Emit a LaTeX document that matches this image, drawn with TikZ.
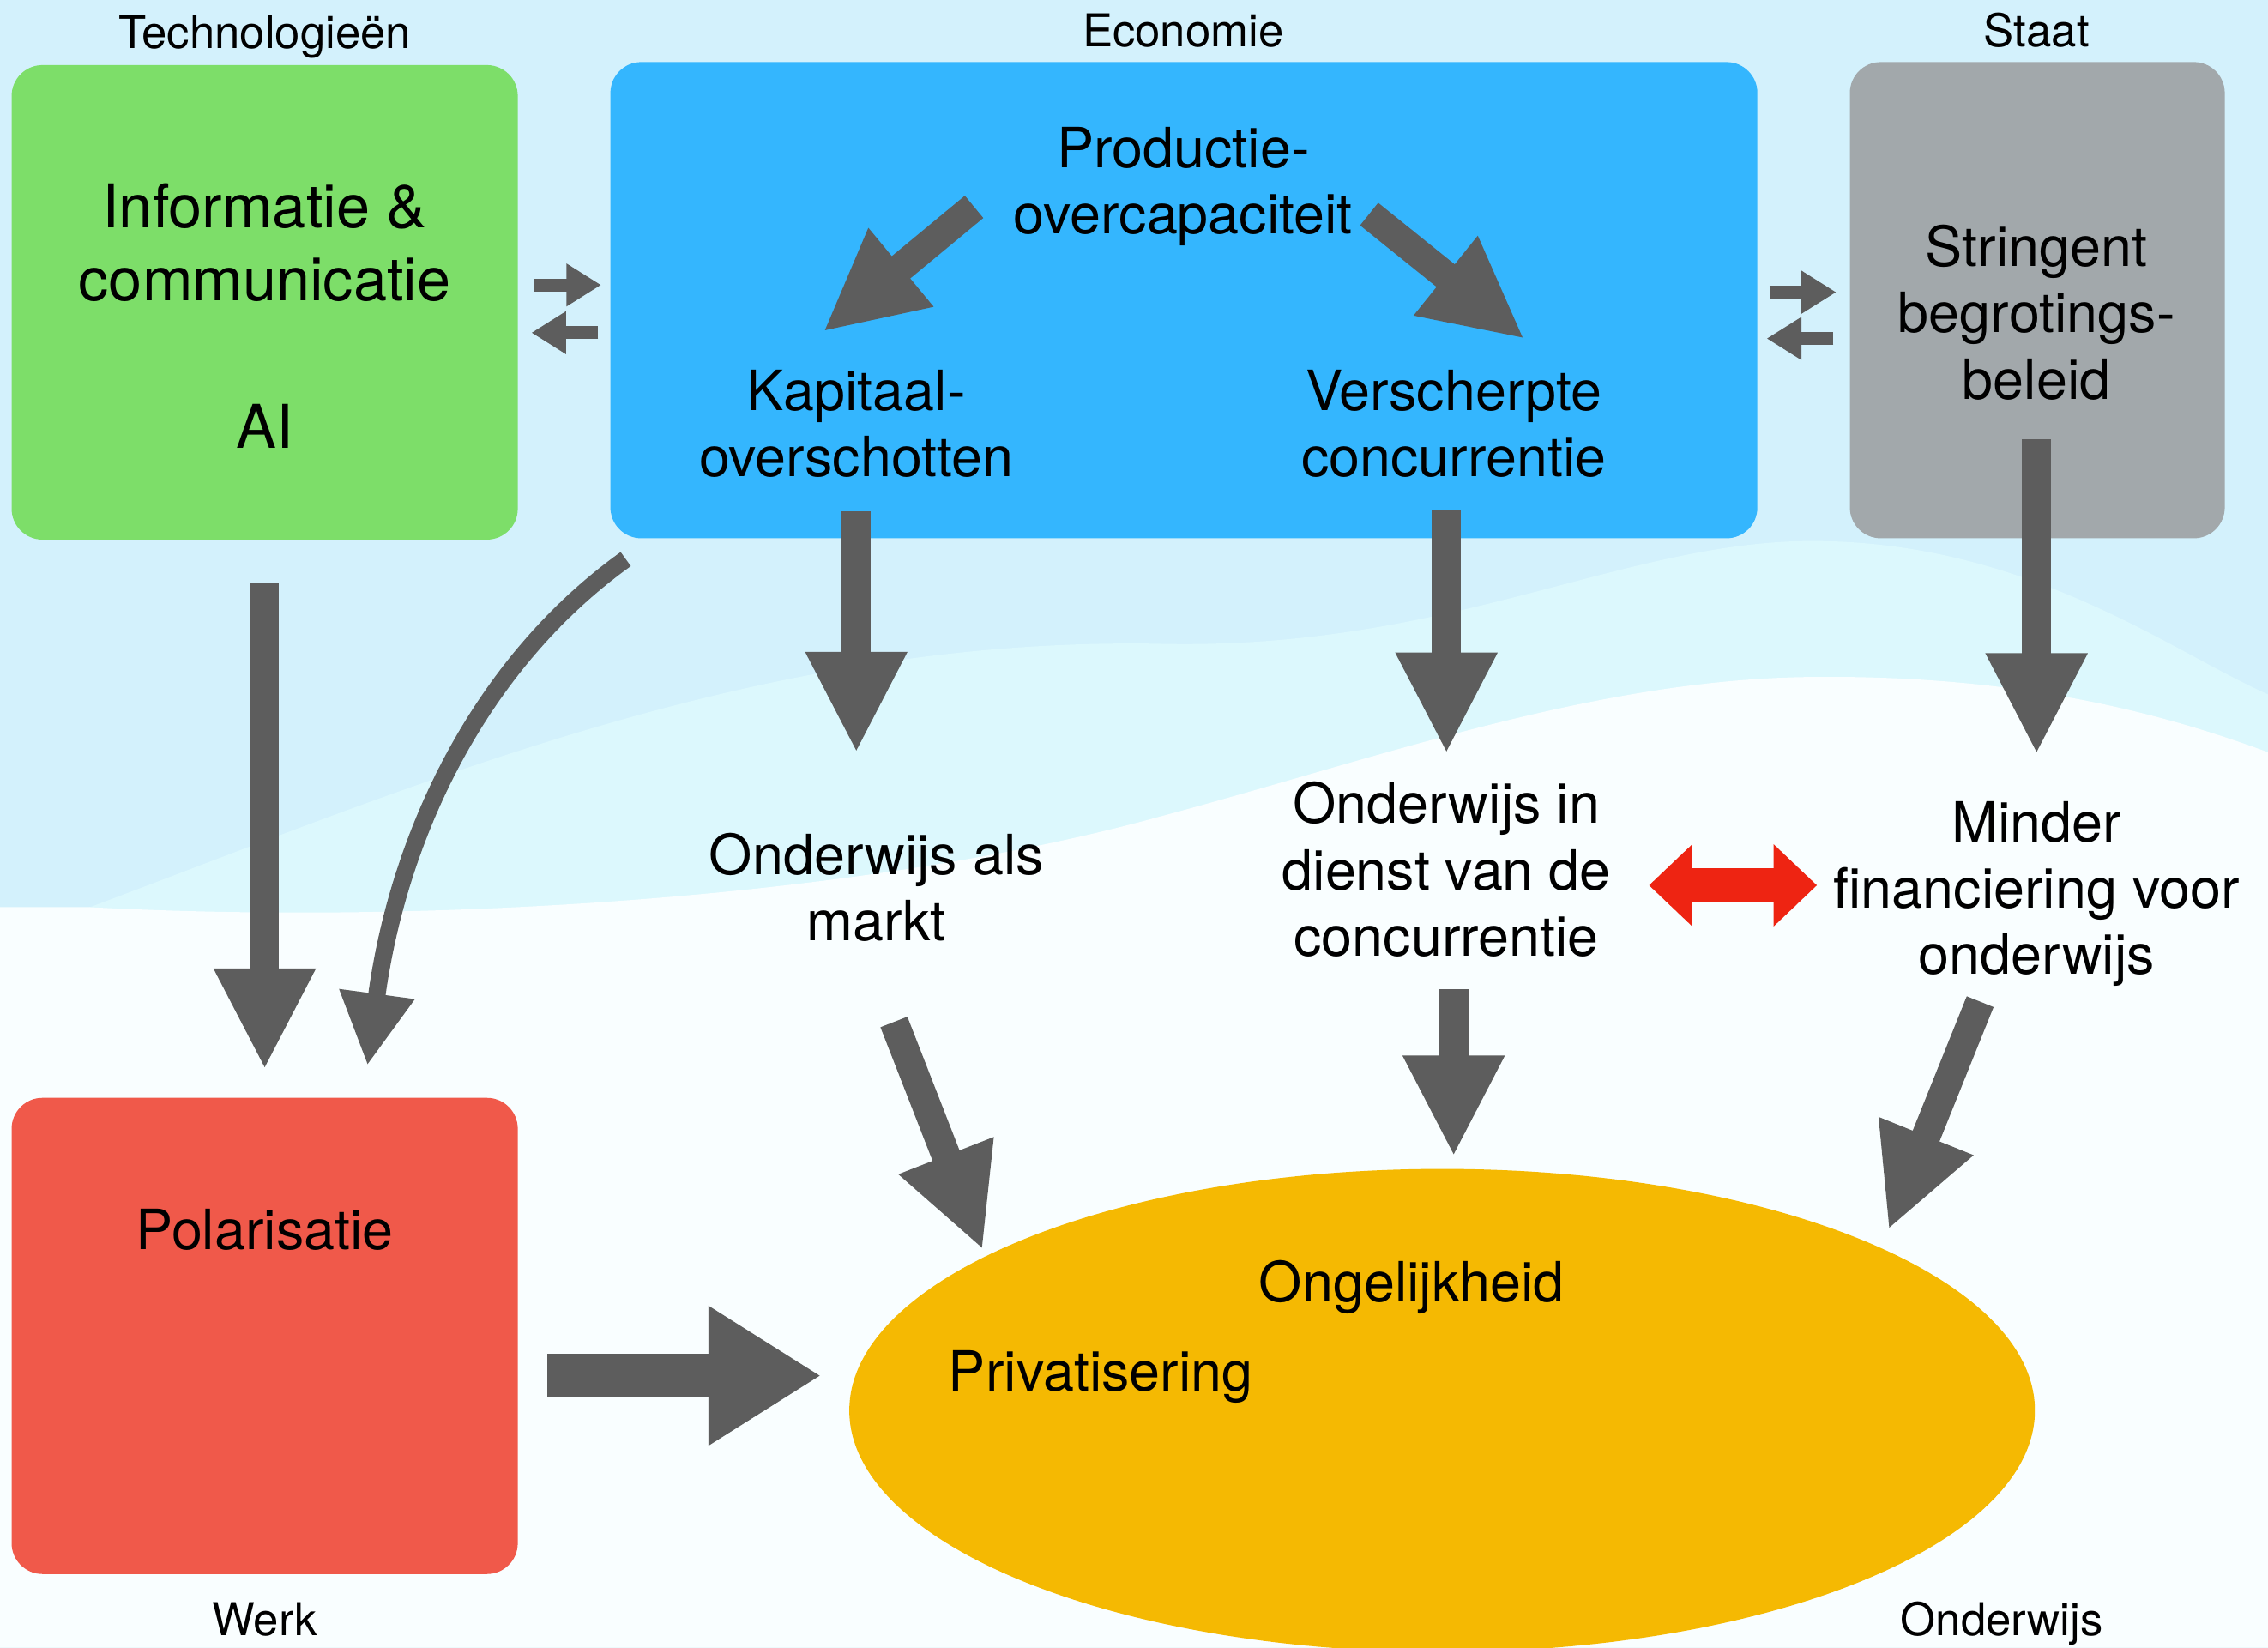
\documentclass[tikz,border=0pt]{standalone}
\usepackage{fontspec}
\setmainfont{TeX Gyre Heros}
\usepackage{tikz}
\usetikzlibrary{
        arrows.meta,
        calc,
        shapes.geometric
    }
\definecolor{techgreen}{HTML}{7DDE69}
\definecolor{econblue}{HTML}{34B6FE}
\definecolor{staatgray}{HTML}{A2A8AB}
\definecolor{werkred}{HTML}{F0594A}
\definecolor{onderwijsyellow}{HTML}{F5B902}
\definecolor{arrowgray}{HTML}{5D5D5D}
\definecolor{arrowred}{HTML}{EE2412}
\definecolor{bgtop}{HTML}{D3F1FC}
\definecolor{bgmid}{HTML}{DCF8FD}
\definecolor{bglow}{HTML}{F9FEFF}
\tikzset{
    box/.style={rounded corners=0.36cm,inner sep=0pt},
    txt/.style={align=center,inner sep=0pt,font=\fontsize{18.4}{22}\selectfont},
    kop/.style={inner sep=0pt,font=\fontsize{15}{18}\selectfont},
    bigarrow/.style={draw=arrowgray,line width=0.337cm,-{Triangle[length=1.18cm,width=1.10cm]}},
    widearrow/.style={draw=arrowgray,line width=0.506cm,-{Triangle[length=1.315cm,width=1.534cm]}},
    smallarrow/.style={draw=arrowgray,line width=0.152cm,-{Triangle[length=0.405cm,width=0.472cm]}},
    curvearrow/.style={draw=arrowgray,line width=0.202cm,-{Triangle[length=0.84cm,width=0.83cm]}},
    redarrow/.style={draw=arrowred,line width=0.405cm,{Triangle[length=0.506cm,width=0.927cm]}-{Triangle[length=0.506cm,width=0.927cm]}}
}

\begin{document}
\begin{tikzpicture}[x=0.01686cm,y=-0.01686cm]
                    % achtergrond
                    \useasboundingbox (0,0) rectangle (1568,1139);
                    \clip (0,0) rectangle (1568,1139);
                    \fill[bgtop] (0,0) rectangle (1568,1139);
                    \fill[bgmid] (0,1139) -- (0,650) .. controls (250,560) and (500,440) .. (800,445) .. controls (1000,450) and (1120,375) .. (1250,374) .. controls (1400,373) and (1500,450) .. (1568,480) -- (1568,1139) -- cycle;
                    \fill[bglow] (0,1139) -- (0,627) -- (60,627) .. controls (300,640) and (600,620) .. (800,565) .. controls (950,525) and (1100,470) .. (1250,468) .. controls (1400,466) and (1500,495) .. (1568,520) -- (1568,1139) -- cycle;

                    % blokken
                    \node[box,fill=techgreen,minimum width=5.90cm,minimum height=5.53cm] (techbox) at (183,209) {};
                    \node[box,fill=econblue,minimum width=13.37cm,minimum height=5.55cm] (econbox) at (818.5,207.5) {};
                    \node[box,fill=staatgray,minimum width=4.37cm,minimum height=5.55cm] (staatbox) at (1408.5,207.5) {};
                    \node[box,fill=werkred,minimum width=5.90cm,minimum height=5.55cm] (werkbox) at (183,923.5) {};
                    \node[ellipse,fill=onderwijsyellow,inner sep=0pt,minimum width=13.82cm,minimum height=5.63cm] (onderwijsbox) at (997,975) {};

                    \node[kop] (techlabel) at (183,25.5) {Technologieën};
                    \node[kop] (econlabel) at (818,21) {Economie};
                    \node[kop] (staatlabel) at (1408,21) {Staat};
                    \node[kop] (werklabel) at (183,1119.5) {Werk};
                    \node[kop] (onderwijslabel) at (1384,1122.5) {Onderwijs};

                    \node[txt,font=\fontsize{20}{24}\selectfont] (ict) at (183,218.5) {Informatie \&\\communicatie\\[25pt]AI};
                    \node[txt] (prod) at (818,129) {Productie-\\overcapaciteit};
                    \node[txt] (kap) at (592,293) {Kapitaal-\\overschotten};
                    \node[txt] (versch) at (1005,293) {Verscherpte\\concurrentie};
                    \node[txt] (string) at (1408,216) {Stringent\\begrotings-\\beleid};
                    \node[txt] (markt) at (606,613.5) {Onderwijs als\\markt};
                    \node[txt] (dienst) at (1000,601) {Onderwijs in\\dienst van de\\concurrentie};
                    \node[txt] (minder) at (1408,618) {Minder\\financiering voor\\onderwijs};
                    \node[txt] (polar) at (183,850) {Polarisatie};
                    \node[txt] (ongelijk) at (976,890) {Ongelijkheid};
                    \node[txt] (priv) at (761,952) {Privatisering};

                    % pijlen
                    \path
                            ($(techbox.east)+(11,-12)$) edge[smallarrow] ($(econbox.west)+(-6,-10.5)$)
                            ($(econbox.west)+(-8,22.5)$) edge[smallarrow] ($(techbox.east)+(9,21)$)
                            ($(econbox.east)+(8,-5.5)$) edge[smallarrow] ($(staatbox.west)+(-9,-5.5)$)
                            ($(staatbox.west)+(-11,26.5)$) edge[smallarrow] ($(econbox.east)+(6,26.5)$)
                            ($(prod.west)+(-27,14)$) edge[bigarrow] ($(kap.north)+(-23,-26)$)
                            ($(prod.east)+(11,19)$) edge[bigarrow] ($(versch.north)+(49,-21)$)
                            ($(kap.south)+(0,23)$) edge[bigarrow] ($(kap.south |- markt.north)+(0,-55)$)
                            ($(versch.south)+(-5,22)$) edge[bigarrow] ($(dienst.north)+(0,-19)$)
                            ($(string.south)+(0,27)$) edge[bigarrow] ($(minder.north)+(0,-32)$)
                            ($(techbox.south)+(0,30)$) edge[bigarrow] ($(werkbox.north)+(0,-19)$)
                            ($(markt.south)+(12,55)$) edge[bigarrow] ($(onderwijsbox.161)+(-4,-3)$)
                            ($(dienst.south)+(5,22)$) edge[bigarrow] ($(onderwijsbox.north)+(8,-8)$)
                            ($(minder.south)+(-39,10)$) edge[bigarrow] ($(onderwijsbox.22)+(17,-7)$)
                            ($(werkbox.east)+(20,27.5)$) edge[widearrow] ($(onderwijsbox.west)+(-19,-24)$)
                            ($(dienst.east)+(26,11)$) edge[redarrow] ($(minder.west)+(-11,-6)$)
                            ;
                    \draw[curvearrow] ($(econbox.south west)+(11,14)$) .. controls (330,460) and (275,580) .. ($(werkbox.north)+(71,-22)$);
\end{tikzpicture}
\end{document}
